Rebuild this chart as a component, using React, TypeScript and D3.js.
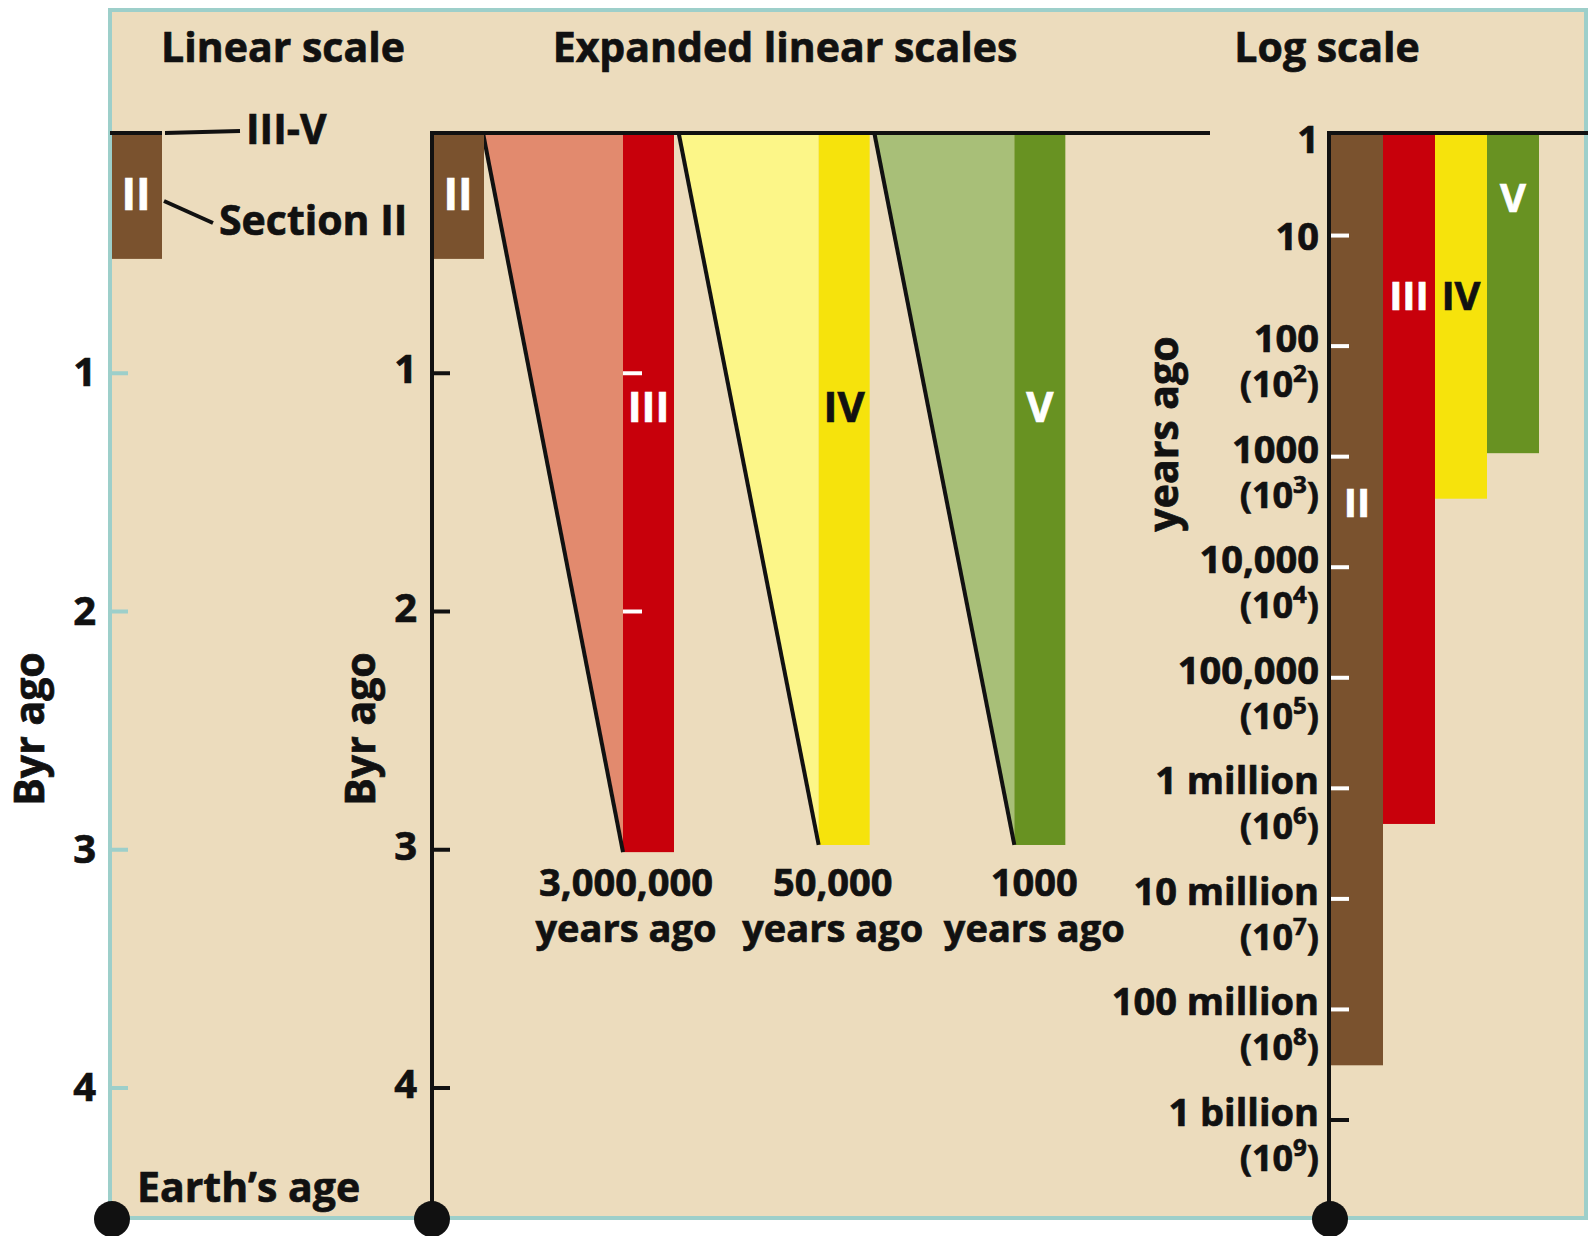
import React, { useEffect, useRef } from 'react';
import * as d3 from 'd3';

// Panel titles
const panelTitles = ['Linear scale', 'Expanded linear scales', 'Log scale'];

// Linear scale (billions of years ago)
const byrTicks = [1, 2, 3, 4];
const earthAgeByr = 4.55;
const sectionIIEndByr = 0.52;

// Expanded linear scales: each section stretched to the Byr axis
const expandedSections = ['III', 'IV', 'V'];
const expandedEndByr = [3.01, 2.98, 2.98];
const expandedSpanLabels = ['3,000,000', '50,000', '1000'];

// Log scale (years ago)
const logTickValues = [1, 10, 100, 1e3, 1e4, 1e5, 1e6, 1e7, 1e8, 1e9];
const logTickLabels = ['1', '10', '100', '1000', '10,000', '100,000', '1 million', '10 million', '100 million', '1 billion'];
const logTickExponents = [null, null, 2, 3, 4, 5, 6, 7, 8, 9];
const logSections = ['II', 'III', 'IV', 'V'];
const logSectionEnds = [3.2e8, 2.1e6, 2.4e3, 930];

const sectionColor: Record<string, string> = { II: '#7a522e', III: '#c8000b', IV: '#f6e30c', V: '#689222' };
const wedgeColor: Record<string, string> = { III: '#e28a6e', IV: '#fcf688', V: '#a8bf78' };
const labelColor: Record<string, string> = { II: '#ffffff', III: '#ffffff', IV: '#111111', V: '#ffffff' };

const BG = '#ecdcbd';
const TEAL = '#9dcfca';
const INK = '#111111';
const FONT = "'Open Sans', 'DejaVu Sans', sans-serif";

export default function App() {
  const ref = useRef<SVGSVGElement>(null);

  useEffect(() => {
    if (!ref.current) return;
    const svg = d3.select(ref.current);
    svg.selectAll('*').remove();

    const W = 1588;
    const H = 1236;
    const topY = 133;

    // scales
    const y = d3.scaleLinear().domain([0, 4]).range([135, 1088]);
    const yLog = d3.scaleLog().domain([1, 1e9]).range([125, 1120]);
    const xExp = d3.scaleBand().domain(expandedSections).range([483, 1070]);
    const xLog = d3.scaleBand().domain(logSections).range([1331, 1539]);

    const text = (g: any, x: number, yy: number, s: string, size: number, anchor = 'start', fill = INK) =>
      g.append('text')
        .attr('x', x)
        .attr('y', yy)
        .attr('text-anchor', anchor)
        .attr('font-family', FONT)
        .attr('font-weight', 700)
        .attr('font-size', size)
        .attr('fill', fill)
        .attr('stroke', fill)
        .attr('stroke-width', 0.7)
        .text(s);

    // background + frame
    svg.append('rect').attr('width', W).attr('height', H).attr('fill', '#ffffff');
    svg.append('rect')
      .attr('x', 110).attr('y', 10)
      .attr('width', 1476).attr('height', 1208)
      .attr('fill', BG)
      .attr('stroke', TEAL)
      .attr('stroke-width', 4);

    // titles
    const titleX = [283, 785, 1327];
    panelTitles.forEach((t, i) => text(svg, titleX[i], 62, t, 41, 'middle'));

    // ---------- Linear scale ----------
    const lin = svg.append('g');
    lin.append('rect')
      .attr('x', 112).attr('y', y(0))
      .attr('width', 50).attr('height', y(sectionIIEndByr) - y(0))
      .attr('fill', sectionColor.II);
    lin.append('line')
      .attr('x1', 110).attr('x2', 162).attr('y1', topY).attr('y2', topY)
      .attr('stroke', INK).attr('stroke-width', 4);
    text(lin, 136, 210, 'II', 44, 'middle', '#ffffff');

    lin.selectAll('.tick')
      .data(byrTicks)
      .enter()
      .append('line')
        .attr('x1', 110).attr('x2', 128)
        .attr('y1', d => y(d)).attr('y2', d => y(d))
        .attr('stroke', TEAL).attr('stroke-width', 4);
    byrTicks.forEach(d => text(lin, 96, y(d) + 13, String(d), 40, 'end'));

    lin.append('line')
      .attr('x1', 165).attr('y1', 133).attr('x2', 240).attr('y2', 131)
      .attr('stroke', INK).attr('stroke-width', 4);
    text(lin, 246, 144, 'III-V', 41);
    lin.append('line')
      .attr('x1', 164).attr('y1', 201).attr('x2', 213).attr('y2', 223)
      .attr('stroke', INK).attr('stroke-width', 4);
    text(lin, 219, 235, 'Section II', 41);

    text(lin, 137, 1202, 'Earth\u2019s age', 41);
    lin.append('circle').attr('cx', 112).attr('cy', y(earthAgeByr)).attr('r', 18).attr('fill', INK);

    text(lin, 0, 0, 'Byr ago', 41, 'middle')
      .attr('transform', `translate(44,729) rotate(-90)`);

    // ---------- Expanded linear scales ----------
    const exp = svg.append('g');
    const spanLabelOffset = [3, 14, 20];

    expandedSections.forEach((s, i) => {
      const x0 = xExp(s) || 0;
      const barLeft = x0 + 140;
      const yEnd = y(expandedEndByr[i]);
      exp.append('polygon')
        .attr('points', `${x0},${y(0)} ${barLeft},${y(0)} ${barLeft},${yEnd}`)
        .attr('fill', wedgeColor[s]);
      exp.append('rect')
        .attr('x', barLeft).attr('y', y(0))
        .attr('width', 51).attr('height', yEnd - y(0))
        .attr('fill', sectionColor[s]);
      exp.append('line')
        .attr('x1', x0).attr('y1', topY).attr('x2', barLeft).attr('y2', yEnd)
        .attr('stroke', INK).attr('stroke-width', 4);
      if (i === 0) {
        [1, 2].forEach(t => {
          exp.append('line')
            .attr('x1', barLeft).attr('x2', barLeft + 19)
            .attr('y1', y(t)).attr('y2', y(t))
            .attr('stroke', '#ffffff').attr('stroke-width', 4);
        });
      }
      text(exp, barLeft + 25.5, 422, s, 42, 'middle', labelColor[s]);
      text(exp, barLeft + spanLabelOffset[i], 896, expandedSpanLabels[i], 38, 'middle');
      text(exp, barLeft + spanLabelOffset[i], 942, 'years ago', 38, 'middle');
    });

    exp.append('rect')
      .attr('x', 434).attr('y', y(0))
      .attr('width', 50).attr('height', y(sectionIIEndByr) - y(0))
      .attr('fill', sectionColor.II);
    text(exp, 458, 210, 'II', 44, 'middle', '#ffffff');

    exp.append('line')
      .attr('x1', 430).attr('x2', 1210).attr('y1', topY).attr('y2', topY)
      .attr('stroke', INK).attr('stroke-width', 4);
    exp.append('line')
      .attr('x1', 432).attr('x2', 432).attr('y1', 131).attr('y2', y(earthAgeByr))
      .attr('stroke', INK).attr('stroke-width', 4);
    byrTicks.forEach(d => {
      exp.append('line')
        .attr('x1', 432).attr('x2', 450)
        .attr('y1', y(d)).attr('y2', y(d))
        .attr('stroke', INK).attr('stroke-width', 4);
      text(exp, 417, y(d) + 10, String(d), 40, 'end');
    });
    exp.append('circle').attr('cx', 432).attr('cy', y(earthAgeByr)).attr('r', 18).attr('fill', INK);

    text(exp, 0, 0, 'Byr ago', 41, 'middle')
      .attr('transform', `translate(375,729) rotate(-90)`);

    // ---------- Log scale ----------
    const lg = svg.append('g');
    logSections.forEach((s, i) => {
      lg.append('rect')
        .attr('x', xLog(s) || 0).attr('y', 135)
        .attr('width', xLog.bandwidth()).attr('height', yLog(logSectionEnds[i]) - 135)
        .attr('fill', sectionColor[s]);
    });
    const logLabelY = [517, 310, 310, 212];
    logSections.forEach((s, i) => {
      text(lg, (xLog(s) || 0) + xLog.bandwidth() / 2, logLabelY[i], s, 40, 'middle', labelColor[s]);
    });

    lg.append('line')
      .attr('x1', 1327).attr('x2', 1588).attr('y1', topY).attr('y2', topY)
      .attr('stroke', INK).attr('stroke-width', 4);
    lg.append('line')
      .attr('x1', 1329).attr('x2', 1329).attr('y1', 131).attr('y2', y(earthAgeByr))
      .attr('stroke', INK).attr('stroke-width', 4);

    logTickValues.forEach((v, i) => {
      const ty = yLog(v);
      if (v > 1) {
        lg.append('line')
          .attr('x1', 1331).attr('x2', 1349)
          .attr('y1', ty).attr('y2', ty)
          .attr('stroke', v < logSectionEnds[0] ? '#ffffff' : INK)
          .attr('stroke-width', 4);
      }
      const e = logTickExponents[i];
      if (e === null) {
        text(lg, 1319, v === 1 ? 153 : ty + 14, logTickLabels[i], 38, 'end');
      } else {
        text(lg, 1319, ty + 6, logTickLabels[i], 38, 'end');
        const t = lg.append('text')
          .attr('x', 1319).attr('y', ty + 51)
          .attr('text-anchor', 'end')
          .attr('font-family', FONT)
          .attr('font-weight', 700)
          .attr('font-size', 36)
          .attr('fill', INK)
          .attr('stroke', INK)
          .attr('stroke-width', 0.7);
        t.append('tspan').text('(10');
        t.append('tspan').attr('dy', -15).attr('font-size', 24).text(String(e));
        t.append('tspan').attr('dy', 15).text(')');
      }
    });
    lg.append('circle').attr('cx', 1330).attr('cy', y(earthAgeByr)).attr('r', 18).attr('fill', INK);

    text(lg, 0, 0, 'years ago', 41, 'middle')
      .attr('transform', `translate(1178,434) rotate(-90)`);
  }, []);

  return (
    <svg
      ref={ref}
      width={1588}
      height={1236}
      style={{ position: 'absolute', left: 0, top: 0, display: 'block' }}
    />
  );
}
